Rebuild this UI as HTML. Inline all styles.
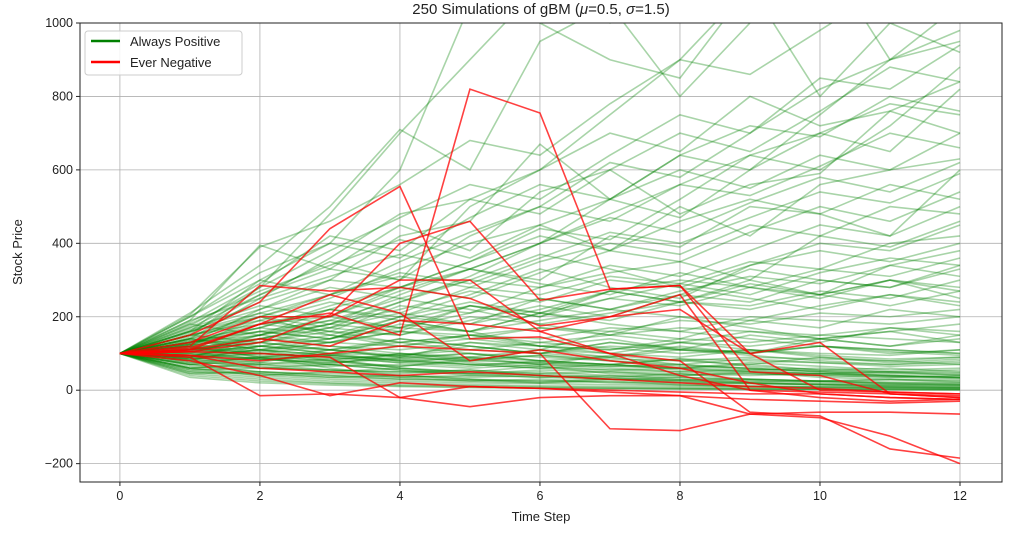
<!DOCTYPE html>
<html><head><meta charset="utf-8"><style>
body{margin:0;background:#fff;width:1024px;height:529px;overflow:hidden}
svg text{font-family:"Liberation Sans","DejaVu Sans",sans-serif;fill:#222}
</style></head><body>
<svg id="chart" width="1024" height="529" xmlns="http://www.w3.org/2000/svg">
<defs><clipPath id="clip"><rect x="80" y="23" width="922" height="459"/></clipPath></defs>
<g id="grid"></g>
<g id="lines" clip-path="url(#clip)"></g>
<rect x="80" y="23" width="922" height="459" fill="none" stroke="#222" stroke-width="1"/>
<g id="ticks"></g>
<text x="541" y="14" text-anchor="middle" font-size="15">250 Simulations of gBM (<tspan font-style="italic">μ</tspan>=0.5, <tspan font-style="italic">σ</tspan>=1.5)</text>
<text x="541" y="521" text-anchor="middle" font-size="13">Time Step</text>
<text x="22" y="252" text-anchor="middle" font-size="13" transform="rotate(-90 22 252)">Stock Price</text>
<g>
<rect x="85" y="31" width="157" height="44" rx="3" fill="#fff" fill-opacity="0.85" stroke="#ccc"/>
<g><line x1="91" y1="41" x2="120" y2="41" stroke="green" stroke-width="2.5"/><text x="130" y="46" font-size="13">Always Positive</text></g>
<g><line x1="91" y1="62" x2="120" y2="62" stroke="red" stroke-width="2.5"/><text x="130" y="67" font-size="13">Ever Negative</text></g>
</g>
</svg>
<script>
const xTicks=[0,2,4,6,8,10,12];
const yTicks=[-200,0,200,400,600,800,1000];
const greenPaths=[
[100,190,395,330,300,500,600,750,900,1100,1200,1400,1500],
[100,150,280,480,700,900,1100,1000,1200,1300,1100,1200,1000],
[100,210,340,500,710,600,950,1050,800,1000,1200,900,950],
[100,160,300,400,600,1050,1000,900,850,1100,800,1000,920],
[100,140,250,360,480,520,600,700,650,800,720,760,840],
[100,130,220,300,420,460,670,520,640,600,700,650,820],
[100,170,260,330,450,380,540,600,480,560,590,760,700],
[100,120,200,250,330,400,450,380,500,420,560,600,630],
[100,110,180,200,270,330,300,420,390,500,480,420,600],
[100,150,200,170,240,300,280,320,350,300,420,500,480],
[100,120,150,220,200,260,330,280,250,340,400,380,450],
[100,90,140,180,160,230,210,270,300,280,260,340,380],
[100,130,160,140,200,180,250,220,260,330,300,280,340],
[100,110,130,160,150,200,180,210,240,230,270,250,300],
[100,105,120,140,170,160,190,220,200,190,230,260,240],
[100,95,110,130,120,150,170,160,190,180,210,200,220],
[100,115,140,130,160,150,140,170,160,200,190,180,200],
[100,100,120,110,130,150,130,150,170,160,150,170,160],
[100,90,100,120,110,130,120,110,140,130,150,140,130],
[100,85,90,100,95,110,100,120,110,105,120,110,100],
[100,80,85,75,90,80,95,85,80,90,85,80,90],
[100,75,70,65,70,60,70,65,60,55,60,50,55],
[100,70,60,55,50,55,45,50,40,45,40,35,40],
[100,65,50,45,40,35,40,30,35,30,25,28,25],
[100,60,45,35,30,28,25,22,20,18,17,15,14],
[100,55,40,30,25,20,18,15,12,10,9,8,7],
[100,50,35,25,20,15,12,10,8,7,6,5,4],
[100,45,30,20,15,12,9,7,5,4,3,3,2],
[100,40,25,18,12,9,7,5,4,3,2,2,1],
[100,35,20,14,10,7,5,4,3,2,2,1,1],
[100,120,90,60,40,30,20,25,15,10,8,6,5],
[100,140,110,80,60,50,40,30,25,20,15,12,10],
[100,160,200,150,120,100,80,90,70,60,50,40,35],
[100,130,180,220,190,160,120,100,130,110,90,80,70],
[100,110,150,190,250,220,180,150,200,170,140,160,130],
[100,125,170,230,280,330,290,260,320,280,250,300,270],
[100,140,200,260,310,280,350,400,370,450,420,390,460],
[100,160,240,300,280,350,420,380,460,520,480,560,520],
[100,180,270,340,410,360,450,520,600,550,640,600,700],
[100,200,300,260,350,430,500,460,560,640,700,780,750],
[100,170,230,200,280,250,320,380,350,430,500,460,540],
[100,150,190,240,210,280,260,310,290,350,330,400,420],
[100,90,130,170,150,190,230,200,260,240,300,280,330],
[100,85,110,140,190,160,210,250,230,280,330,310,360],
[100,95,75,110,90,130,110,160,140,190,170,220,200],
[100,105,85,70,100,80,110,90,120,100,140,120,150],
[100,110,95,80,65,85,70,95,80,70,90,75,85],
[100,120,100,90,75,65,80,70,60,75,65,55,60],
[100,135,110,95,80,70,60,70,55,50,45,50,40],
[100,150,130,110,140,120,100,90,110,95,80,70,75],
[100,180,150,200,170,230,200,270,240,300,260,230,270],
[100,190,250,310,370,330,400,470,430,510,580,540,620],
[100,200,320,400,360,470,560,520,640,720,690,800,760],
[100,175,280,380,470,560,520,640,750,700,820,900,980],
[100,155,260,350,300,420,500,620,580,700,850,820,940],
[100,145,210,180,260,330,400,480,560,530,610,700,660],
[100,125,190,160,230,210,280,340,310,380,450,420,500],
[100,100,150,130,180,160,210,190,240,220,260,300,280],
[100,80,120,100,140,120,100,130,110,150,130,170,150],
[100,70,90,80,100,90,110,100,90,110,100,95,110],
[100,60,75,70,65,80,75,70,85,80,75,70,80],
[100,55,60,55,50,45,55,50,45,40,45,40,35],
[100,45,50,40,35,40,35,30,28,30,25,22,20],
[100,110,140,180,240,310,400,520,470,600,750,900,1050],
[100,130,170,220,280,350,440,410,520,640,600,720,880],
[100,70,50,40,30,25,20,30,25,20,15,10,8],
[100,85,65,50,60,45,35,40,30,25,20,18,15],
[100,115,90,70,55,45,50,40,35,28,24,20,18],
[100,60,40,50,35,25,30,20,15,12,10,9,6],
[100,95,120,100,80,90,70,60,50,55,45,40,35],
[100,125,140,120,100,85,95,80,65,60,50,45,42],
[100,140,170,150,200,240,210,180,160,140,120,110,100],
[100,165,220,280,250,300,370,330,280,250,220,260,230],
[100,185,290,420,380,520,480,600,700,650,760,880,840],
[100,205,390,460,560,680,640,780,900,860,980,1100,1000],
[100,90,70,85,60,50,65,45,40,50,35,30,28],
[100,110,130,110,90,100,80,70,85,65,55,60,50],
[100,75,90,110,95,120,100,130,115,100,120,105,95],
[100,125,105,130,160,140,170,150,130,160,140,120,140],
[100,60,70,55,45,55,40,35,45,30,25,30,22],
[100,80,60,70,55,40,45,35,28,22,25,18,15],
[100,135,160,190,170,210,250,220,270,310,290,340,310],
[100,120,160,140,190,230,200,250,290,260,320,360,340],
[100,105,140,170,210,180,220,270,240,290,260,300,250],
[100,90,110,95,120,140,120,110,130,120,140,160,180],
[100,140,120,150,130,110,130,115,100,110,95,85,90],
[100,50,45,35,40,30,25,30,20,18,15,14,12],
[100,115,100,85,95,75,65,55,60,50,45,38,33],
[100,95,85,95,80,70,75,65,70,58,52,48,45],
[100,160,210,260,320,290,360,430,400,470,540,510,590],
[100,70,80,95,85,100,90,80,70,85,75,65,70],
[100,150,180,160,130,150,120,140,110,100,120,100,110],
[100,130,150,180,220,270,240,300,280,340,380,350,400],
[100,85,100,90,75,90,80,70,60,70,55,50,48],
[100,100,85,75,85,70,60,55,50,45,40,36,32]
];
const redPaths=[
[100,120,285,270,280,250,175,200,260,0,-20,-30,-25],
[100,150,240,440,555,140,145,100,80,-60,-70,-160,-185],
[100,110,180,210,150,820,755,275,285,100,130,-10,-20],
[100,105,130,205,400,460,245,275,285,50,40,-10,-15],
[100,90,-15,-10,-20,-45,-20,-15,-15,-65,-75,-125,-200],
[100,95,80,100,120,110,100,-105,-110,-65,-60,-60,-65],
[100,130,200,200,300,300,160,200,220,100,0,-5,-10],
[100,110,140,120,190,180,160,100,40,0,-5,-10,-20],
[100,80,40,-15,20,10,5,0,-5,-10,-10,-20,-25],
[100,115,180,260,210,80,110,80,60,20,-10,-20,-25],
[100,105,100,90,-20,10,5,-5,-15,-25,-30,-35,-30],
[100,95,60,50,40,50,40,30,20,10,5,-5,-10]
];
const NS="http://www.w3.org/2000/svg";
const X0=80,X1=1002,Y0=23,Y1=482;
const xMin=-0.57,xMax=12.6,yMin=-250,yMax=1000;
function sx(v){return X0+(v-xMin)/(xMax-xMin)*(X1-X0);}
function sy(v){return Y1-(v-yMin)/(yMax-yMin)*(Y1-Y0);}
const grid=document.getElementById('grid'),ticks=document.getElementById('ticks'),lines=document.getElementById('lines');
function mk(tag,attrs,parent){const e=document.createElementNS(NS,tag);for(const k in attrs)e.setAttribute(k,attrs[k]);parent.appendChild(e);return e;}
xTicks.forEach(t=>{
  const gl=mk('line',{x1:sx(t),x2:sx(t),y1:Y0,y2:Y1,stroke:'#b0b0b0','stroke-width':0.8},grid);
  
  
  mk('line',{x1:sx(t),x2:sx(t),y1:Y1,y2:Y1+4,stroke:'#222'},ticks);
  const tx=mk('text',{x:sx(t),y:Y1+18,'text-anchor':'middle','font-size':12.5},ticks);
  tx.textContent=t;
  
  
});
yTicks.forEach(t=>{
  const gl=mk('line',{x1:X0,x2:X1,y1:sy(t),y2:sy(t),stroke:'#b0b0b0','stroke-width':0.8},grid);
  
  
  mk('line',{x1:X0-4,x2:X0,y1:sy(t),y2:sy(t),stroke:'#222'},ticks);
  const tx=mk('text',{x:X0-7,y:sy(t)+4,'text-anchor':'end','font-size':12.5},ticks);
  tx.textContent=t<0?'\u2212'+(-t):t;
  
  
});
function pts(a){return a.map((v,i)=>sx(i)+','+sy(v)).join(' ');}
greenPaths.forEach(a=>{
  const p=mk('polyline',{points:pts(a),fill:'none',stroke:'green','stroke-opacity':0.34,'stroke-width':1.6},lines);
  
  
});
redPaths.forEach(a=>{
  const p=mk('polyline',{points:pts(a),fill:'none',stroke:'red','stroke-opacity':0.75,'stroke-width':1.6},lines);
  
  
});
</script>
</body></html>
